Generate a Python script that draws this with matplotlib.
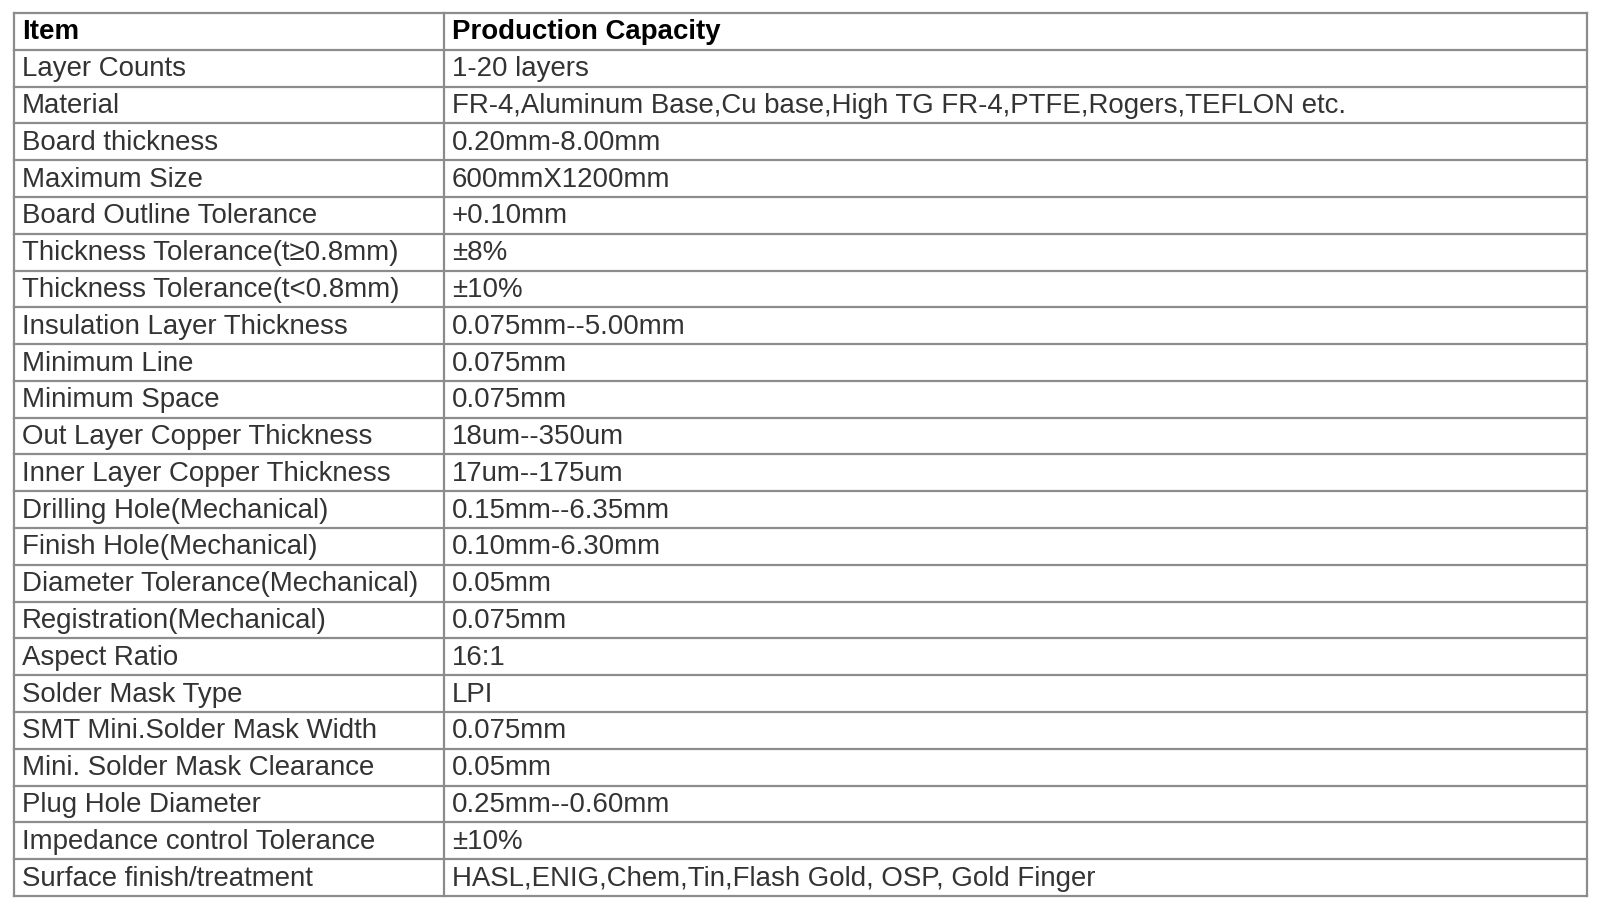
import matplotlib.pyplot as plt

items = ["Layer Counts", "Material", "Board thickness", "Maximum Size",
         "Board Outline Tolerance", "Thickness Tolerance(t≥0.8mm)",
         "Thickness Tolerance(t<0.8mm)", "Insulation Layer Thickness",
         "Minimum Line", "Minimum Space", "Out Layer Copper Thickness",
         "Inner Layer Copper Thickness", "Drilling Hole(Mechanical)",
         "Finish Hole(Mechanical)", "Diameter Tolerance(Mechanical)",
         "Registration(Mechanical)", "Aspect Ratio", "Solder Mask Type",
         "SMT Mini.Solder Mask Width", "Mini. Solder Mask Clearance",
         "Plug Hole Diameter", "Impedance control Tolerance",
         "Surface finish/treatment"]
capacity = ["1-20 layers",
            "FR-4,Aluminum Base,Cu base,High TG FR-4,PTFE,Rogers,TEFLON etc.",
            "0.20mm-8.00mm", "600mmX1200mm", "+0.10mm", "±8%", "±10%",
            "0.075mm--5.00mm", "0.075mm", "0.075mm", "18um--350um",
            "17um--175um", "0.15mm--6.35mm", "0.10mm-6.30mm", "0.05mm",
            "0.075mm", "16:1", "LPI", "0.075mm", "0.05mm", "0.25mm--0.60mm",
            "±10%", "HASL,ENIG,Chem,Tin,Flash Gold, OSP, Gold Finger"]
header = ["Item", "Production Capacity"]

W, H = 1600, 913
fig = plt.figure(figsize=(W / 100, H / 100), dpi=100)
ax = fig.add_axes([0, 0, 1, 1])
ax.set_xlim(0, W)
ax.set_ylim(H, 0)
ax.axis('off')

left, mid, right = 14, 444, 1587
top, bottom = 13, 896
rows = [header] + list(zip(items, capacity))
rh = (bottom - top) / len(rows)
line_kw = dict(color='#8c8c8c', linewidth=1.6)

for i in range(len(rows) + 1):
    ax.plot([left, right], [top + i * rh] * 2, **line_kw)
for x in (left, mid, right):
    ax.plot([x, x], [top, bottom], **line_kw)

for i, (a, b) in enumerate(rows):
    y = top + (i + 0.5) * rh + 1
    weight = 'bold' if i == 0 else 'normal'
    col = '#000000' if i == 0 else '#333333'
    for x, t in ((left + 8, a), (mid + 8, b)):
        ax.text(x, y, t, fontsize=19.9, family=['Liberation Sans', 'DejaVu Sans'],
                fontweight=weight, color=col, va='center', ha='left')

fig.savefig('out.png', dpi=100)
